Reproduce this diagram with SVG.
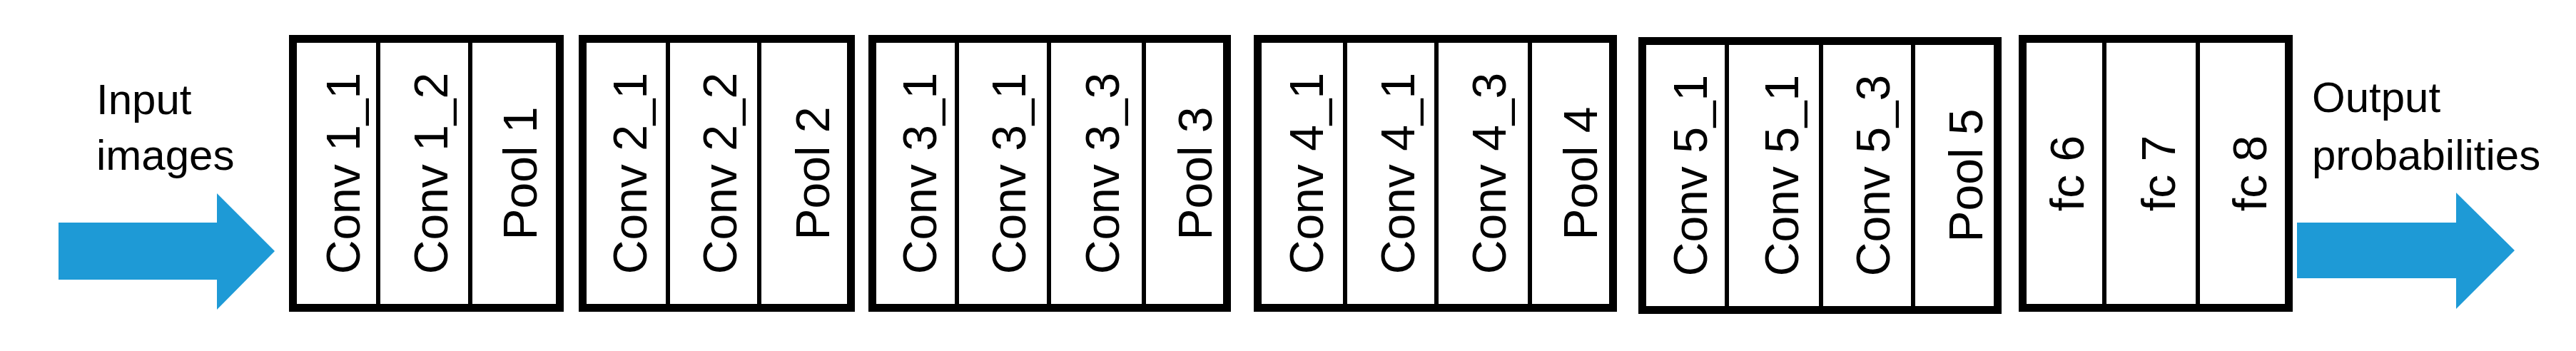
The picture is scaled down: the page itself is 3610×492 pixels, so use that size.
<svg xmlns="http://www.w3.org/2000/svg" width="3610" height="492" viewBox="0 0 3610 492">
<style>
.frame{fill:#fff;stroke:#000;stroke-width:11}
.div{stroke:#000;stroke-width:6}
.lbl{font-family:"Liberation Sans",Arial,sans-serif;font-size:66px;fill:#000;text-anchor:middle}
.side{font-family:"Liberation Sans",Arial,sans-serif;font-size:60px;fill:#000}
.arrow{fill:#1E9AD6}
</style>
<rect width="3610" height="492" fill="#fff"/>
<g id="connectors">
<polygon class="arrow" points="82,312 304,312 304,271 385,352 304,434 304,392 82,392"/>
<polygon class="arrow" points="3219,312 3442,312 3442,270 3524,351 3442,433 3442,390 3219,390"/>
</g>
<g id="input-label"><text class="side" x="135" y="160">Input</text><text class="side" x="135" y="238">images</text></g>
<g id="output-label"><text class="side" x="3240" y="157">Output</text><text class="side" x="3240" y="238">probabilities</text></g>
<g id="block1">
<rect class="frame" x="410.5" y="54.5" width="374" height="377"/>
<line class="div" x1="530" y1="60" x2="530" y2="426"/><line class="div" x1="659" y1="60" x2="659" y2="426"/>
<text class="lbl" transform="translate(504,243) rotate(-90)">Conv 1_1</text>
<text class="lbl" transform="translate(627,243) rotate(-90)">Conv 1_2</text>
<text class="lbl" transform="translate(752,243) rotate(-90)">Pool 1</text>
</g>
<g id="block2">
<rect class="frame" x="816.5" y="54.5" width="376" height="377"/>
<line class="div" x1="936" y1="60" x2="936" y2="426"/><line class="div" x1="1064" y1="60" x2="1064" y2="426"/>
<text class="lbl" transform="translate(906,243) rotate(-90)">Conv 2_1</text>
<text class="lbl" transform="translate(1032,243) rotate(-90)">Conv 2_2</text>
<text class="lbl" transform="translate(1162,243) rotate(-90)">Pool 2</text>
</g>
<g id="block3">
<rect class="frame" x="1222.5" y="54.5" width="497" height="377"/>
<line class="div" x1="1341" y1="60" x2="1341" y2="426"/><line class="div" x1="1470" y1="60" x2="1470" y2="426"/><line class="div" x1="1603" y1="60" x2="1603" y2="426"/>
<text class="lbl" transform="translate(1312,243) rotate(-90)">Conv 3_1</text>
<text class="lbl" transform="translate(1437,243) rotate(-90)">Conv 3_1</text>
<text class="lbl" transform="translate(1568,243) rotate(-90)">Conv 3_3</text>
<text class="lbl" transform="translate(1698,243) rotate(-90)">Pool 3</text>
</g>
<g id="block4">
<rect class="frame" x="1762.5" y="54.5" width="498" height="377"/>
<line class="div" x1="1885" y1="60" x2="1885" y2="426"/><line class="div" x1="2013" y1="60" x2="2013" y2="426"/><line class="div" x1="2144" y1="60" x2="2144" y2="426"/>
<text class="lbl" transform="translate(1854,243) rotate(-90)">Conv 4_1</text>
<text class="lbl" transform="translate(1982,243) rotate(-90)">Conv 4_1</text>
<text class="lbl" transform="translate(2110,243) rotate(-90)">Conv 4_3</text>
<text class="lbl" transform="translate(2238,243) rotate(-90)">Pool 4</text>
</g>
<g id="block5">
<rect class="frame" x="2301.5" y="57.5" width="498" height="377"/>
<line class="div" x1="2420" y1="63" x2="2420" y2="429"/><line class="div" x1="2552" y1="63" x2="2552" y2="429"/><line class="div" x1="2681" y1="63" x2="2681" y2="429"/>
<text class="lbl" transform="translate(2392,246) rotate(-90)">Conv 5_1</text>
<text class="lbl" transform="translate(2520,246) rotate(-90)">Conv 5_1</text>
<text class="lbl" transform="translate(2648,246) rotate(-90)">Conv 5_3</text>
<text class="lbl" transform="translate(2778,246) rotate(-90)">Pool 5</text>
</g>
<g id="block6">
<rect class="frame" x="2834.5" y="54.5" width="373" height="377"/>
<line class="div" x1="2949" y1="60" x2="2949" y2="426"/><line class="div" x1="3080" y1="60" x2="3080" y2="426"/>
<text class="lbl" transform="translate(2920,243) rotate(-90)">fc 6</text>
<text class="lbl" transform="translate(3048,243) rotate(-90)">fc 7</text>
<text class="lbl" transform="translate(3176,243) rotate(-90)">fc 8</text>
</g>
</svg>
